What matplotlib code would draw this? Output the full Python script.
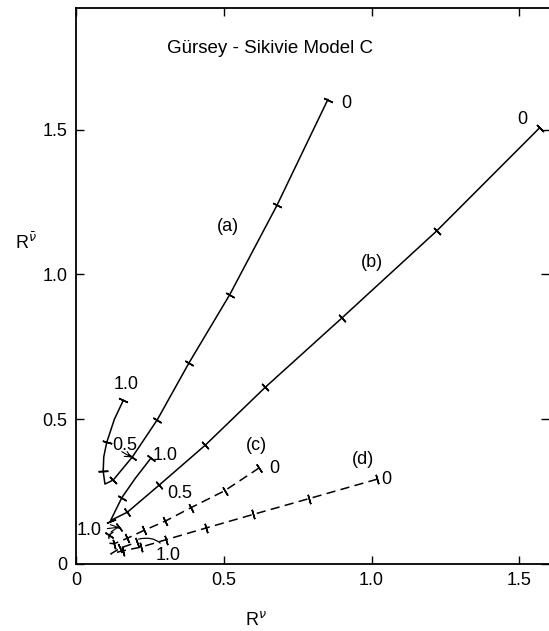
import math

import matplotlib

matplotlib.use("Agg")
import matplotlib.pyplot as plt

plt.rcParams["font.family"] = ["Liberation Sans", "DejaVu Sans"]

# --- curve data, each curve runs from the "0" end to the "1.0" end ---
# (a) solid
A_X = [0.852, 0.68, 0.52, 0.382, 0.275, 0.191, 0.126, 0.098, 0.092, 0.094, 0.104, 0.13, 0.16]
A_Y = [1.604, 1.239, 0.93, 0.694, 0.498, 0.370, 0.290, 0.276, 0.320, 0.370, 0.420, 0.50, 0.565]
A_TICK = [1, 1, 1, 1, 1, 1, 1, 0, 1, 0, 1, 0, 1]

# (b) solid
B_X = [1.568, 1.22, 0.90, 0.64, 0.438, 0.281, 0.174, 0.117, 0.155, 0.20, 0.253]
B_Y = [1.506, 1.15, 0.85, 0.61, 0.411, 0.272, 0.179, 0.150, 0.229, 0.295, 0.365]
B_TICK = [1, 1, 1, 1, 1, 1, 1, 1, 1, 0, 1]

# (c) dashed
C_X = [0.62, 0.503, 0.39, 0.302, 0.230, 0.174, 0.129, 0.110, 0.112, 0.146]
C_Y = [0.332, 0.253, 0.195, 0.148, 0.116, 0.089, 0.070, 0.072, 0.100, 0.127]
C_TICK = [1, 1, 1, 1, 1, 1, 1, 0, 1, 1]

# (d) dashed
D_X = [1.019, 0.789, 0.599, 0.439, 0.305, 0.219, 0.160, 0.118, 0.150, 0.205]
D_Y = [0.293, 0.226, 0.171, 0.124, 0.084, 0.058, 0.046, 0.035, 0.055, 0.075]
D_TICK = [1, 1, 1, 1, 1, 1, 1, 0, 1, 1]

AXIS_TICKS = [0, 0.5, 1.0, 1.5]
AXIS_TICK_LABELS = ["0", "0.5", "1.0", "1.5"]

TITLE = "Gürsey - Sikivie Model C"


fig = plt.figure(figsize=(5.49, 6.31), dpi=100)
ax = fig.add_axes([0.1384, 0.1062, 0.8616, 0.8811])
ax.set_xlim(0, 1.6)
ax.set_ylim(0, 1.92)


def draw_curve(xs, ys, ticks, ls):
    ax.plot(xs, ys, color="black", lw=1.1, ls=ls, dashes=(6, 3.5) if ls == "--" else (None, None))
    disp = ax.transData.transform(list(zip(xs, ys)))
    n = len(xs)
    for i in range(n):
        if not ticks[i]:
            continue
        j0, j1 = max(i - 1, 0), min(i + 1, n - 1)
        dx = disp[j1][0] - disp[j0][0]
        dy = disp[j1][1] - disp[j0][1]
        ang = math.degrees(math.atan2(dy, dx))
        ax.plot(xs[i], ys[i], marker=(2, 2, ang), ms=7, mew=1.1, color="black")


draw_curve(A_X, A_Y, A_TICK, "-")
draw_curve(B_X, B_Y, B_TICK, "-")
draw_curve(C_X, C_Y, C_TICK, "--")
draw_curve(D_X, D_Y, D_TICK, "--")

fs = 13
# end labels and curve names
ax.text(0.915, 1.59, "0", fontsize=fs, ha="center", va="center")
ax.text(1.51, 1.535, "0", fontsize=fs, ha="center", va="center")
ax.text(0.67, 0.33, "0", fontsize=fs, ha="center", va="center")
ax.text(1.05, 0.293, "0", fontsize=fs, ha="center", va="center")
ax.text(0.515, 1.164, "(a)", fontsize=fs, ha="center", va="center")
ax.text(1.0, 1.04, "(b)", fontsize=fs, ha="center", va="center")
ax.text(0.61, 0.41, "(c)", fontsize=fs, ha="center", va="center")
ax.text(0.97, 0.36, "(d)", fontsize=fs, ha="center", va="center")

ax.text(0.17, 0.62, "1.0", fontsize=fs, ha="center", va="center")
ax.text(0.165, 0.41, "0.5", fontsize=fs, ha="center", va="center")
ax.annotate("", xy=(0.188, 0.368), xytext=(0.155, 0.388),
            arrowprops=dict(arrowstyle="->", lw=0.8, shrinkA=0, shrinkB=0))
ax.text(0.30, 0.375, "1.0", fontsize=fs, ha="center", va="center")
ax.text(0.35, 0.245, "0.5", fontsize=fs, ha="center", va="center")
ax.annotate("1.0", xy=(0.146, 0.127), xytext=(0.045, 0.115), fontsize=fs, ha="center", va="center",
            arrowprops=dict(arrowstyle="->", lw=0.8, shrinkA=2, shrinkB=0))
ax.annotate("1.0", xy=(0.212, 0.086), xytext=(0.31, 0.03), fontsize=fs, ha="center", va="center",
            arrowprops=dict(arrowstyle="-", lw=0.9, shrinkA=1, shrinkB=0,
                            connectionstyle="arc3,rad=0.45"))

ax.text(0.655, 1.78, TITLE, fontsize=13.5, ha="center", va="center")

ax.set_xticks(AXIS_TICKS)
ax.set_xticklabels(AXIS_TICK_LABELS)
ax.set_yticks(AXIS_TICKS)
ax.set_yticklabels(AXIS_TICK_LABELS)
ax.tick_params(direction="in", length=6, width=1.0, labelsize=fs, top=True, right=True, pad=6)
for sp in ax.spines.values():
    sp.set_linewidth(1.3)
ax.spines["right"].set_visible(False)

ax.set_xlabel(r"R$^{\nu}$", fontsize=fs)
ax.xaxis.set_label_coords(0.38, -0.085)
ax.set_ylabel(r"R$^{\bar{\nu}}$", fontsize=fs, rotation=0)
ax.yaxis.set_label_coords(-0.105, 0.56)

fig.savefig("out.png", dpi=100)
